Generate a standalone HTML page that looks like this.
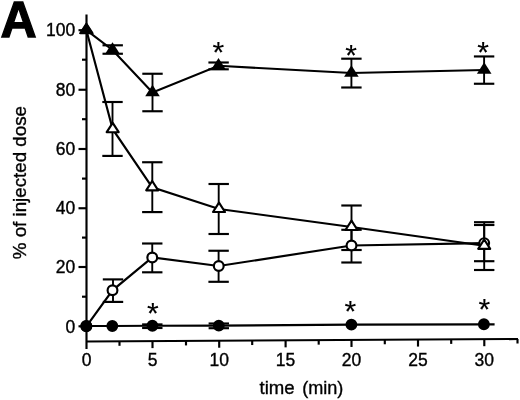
<!DOCTYPE html>
<html><head><meta charset="utf-8"><style>
html,body{margin:0;padding:0;background:#fff;}
svg{display:block;}
text{font-family:"Liberation Sans", Arial, Helvetica, sans-serif;fill:#000;stroke:#000;stroke-width:0.35px;}
</style></head><body>
<svg width="520" height="400" viewBox="0 0 520 400">
<rect width="520" height="400" fill="#fff"/>
<g stroke="#000" stroke-width="2.15" fill="none" stroke-linecap="butt">
<line x1="86.5" y1="14.5" x2="86.5" y2="349" />
<line x1="78.5" y1="30.2" x2="86.5" y2="30.2" />
<line x1="78.5" y1="89.75" x2="86.5" y2="89.75" />
<line x1="78.5" y1="149" x2="86.5" y2="149" />
<line x1="78.5" y1="208.25" x2="86.5" y2="208.25" />
<line x1="78.5" y1="267" x2="86.5" y2="267" />
<line x1="78.5" y1="326.3" x2="86.5" y2="326.3" />
<line x1="82" y1="59.7" x2="86.5" y2="59.7" />
<line x1="82" y1="119.2" x2="86.5" y2="119.2" />
<line x1="82" y1="178.6" x2="86.5" y2="178.6" />
<line x1="82" y1="237.6" x2="86.5" y2="237.6" />
<line x1="82" y1="296.7" x2="86.5" y2="296.7" />
<line x1="86.5" y1="341.5" x2="518" y2="339" />
<line x1="152.5" y1="341.12" x2="152.5" y2="348.12" />
<line x1="219.2" y1="340.73" x2="219.2" y2="347.73" />
<line x1="285.6" y1="340.35" x2="285.6" y2="347.35" />
<line x1="351.5" y1="339.96" x2="351.5" y2="346.96" />
<line x1="418" y1="339.58" x2="418" y2="346.58" />
<line x1="484.3" y1="339.20" x2="484.3" y2="346.20" />
<line x1="119.5" y1="341.31" x2="119.5" y2="345.81" />
<line x1="186" y1="340.92" x2="186" y2="345.42" />
<line x1="252.2" y1="340.54" x2="252.2" y2="345.04" />
<line x1="318.7" y1="340.15" x2="318.7" y2="344.65" />
<line x1="384.8" y1="339.77" x2="384.8" y2="344.27" />
<line x1="451.2" y1="339.39" x2="451.2" y2="343.89" />
<line x1="517.5" y1="339.00" x2="517.5" y2="343.50" />
</g>
<g stroke="#000" stroke-width="2.15">
<polyline fill="none" points="86.4,30.2 112.5,50 152.5,92.5 218.5,65.8 351.4,73 484.2,70" />
<polyline fill="none" points="86.4,30.2 112.7,129.2 152.2,187.3 219,209 351.5,227 484.2,245.8" />
<polyline fill="none" points="86.4,326.3 112.5,290.3 152.25,257.5 218.75,266 351.5,245.5 484.2,243.1" />
<polyline fill="none" points="86.2,326 112.3,326 152.4,325.7 218.8,325.6 351.4,324.6 483.9,324.3 494.6,324.4" />
<line x1="112.7" y1="45.3" x2="112.7" y2="53.75" stroke-width="1.9" />
<line x1="102.5" y1="45.3" x2="122.9" y2="45.3" />
<line x1="102.5" y1="53.75" x2="122.9" y2="53.75" />
<line x1="152.5" y1="73.75" x2="152.5" y2="111.25" stroke-width="1.9" />
<line x1="142.3" y1="73.75" x2="162.7" y2="73.75" />
<line x1="142.3" y1="111.25" x2="162.7" y2="111.25" />
<line x1="218.6" y1="62.5" x2="218.6" y2="69.3" stroke-width="1.9" />
<line x1="208.4" y1="62.5" x2="228.79999999999998" y2="62.5" />
<line x1="208.4" y1="69.3" x2="228.79999999999998" y2="69.3" />
<line x1="351.4" y1="58.7" x2="351.4" y2="87.5" stroke-width="1.9" />
<line x1="341.2" y1="58.7" x2="361.59999999999997" y2="58.7" />
<line x1="341.2" y1="87.5" x2="361.59999999999997" y2="87.5" />
<line x1="484.1" y1="56.45" x2="484.1" y2="83.75" stroke-width="1.9" />
<line x1="473.90000000000003" y1="56.45" x2="494.3" y2="56.45" />
<line x1="473.90000000000003" y1="83.75" x2="494.3" y2="83.75" />
<line x1="112.5" y1="102" x2="112.5" y2="155.9" stroke-width="1.9" />
<line x1="102.3" y1="102" x2="122.7" y2="102" />
<line x1="102.3" y1="155.9" x2="122.7" y2="155.9" />
<line x1="152.3" y1="162.25" x2="152.3" y2="212.1" stroke-width="1.9" />
<line x1="142.10000000000002" y1="162.25" x2="162.5" y2="162.25" />
<line x1="142.10000000000002" y1="212.1" x2="162.5" y2="212.1" />
<line x1="218.7" y1="184" x2="218.7" y2="234" stroke-width="1.9" />
<line x1="208.5" y1="184" x2="228.89999999999998" y2="184" />
<line x1="208.5" y1="234" x2="228.89999999999998" y2="234" />
<line x1="351.5" y1="205.5" x2="351.5" y2="250" stroke-width="1.9" />
<line x1="341.3" y1="205.5" x2="361.7" y2="205.5" />
<line x1="341.3" y1="250" x2="361.7" y2="250" />
<line x1="484.2" y1="222.2" x2="484.2" y2="270" stroke-width="1.9" />
<line x1="474.0" y1="222.2" x2="494.4" y2="222.2" />
<line x1="474.0" y1="270" x2="494.4" y2="270" />
<line x1="113" y1="279.4" x2="113" y2="301.9" stroke-width="1.9" />
<line x1="102.8" y1="279.4" x2="123.2" y2="279.4" />
<line x1="102.8" y1="301.9" x2="123.2" y2="301.9" />
<line x1="152.25" y1="243.5" x2="152.25" y2="272.3" stroke-width="1.9" />
<line x1="142.05" y1="243.5" x2="162.45" y2="243.5" />
<line x1="142.05" y1="272.3" x2="162.45" y2="272.3" />
<line x1="218.6" y1="250.75" x2="218.6" y2="281.8" stroke-width="1.9" />
<line x1="208.4" y1="250.75" x2="228.79999999999998" y2="250.75" />
<line x1="208.4" y1="281.8" x2="228.79999999999998" y2="281.8" />
<line x1="351.5" y1="229.8" x2="351.5" y2="262.5" stroke-width="1.9" />
<line x1="341.3" y1="229.8" x2="361.7" y2="229.8" />
<line x1="341.3" y1="262.5" x2="361.7" y2="262.5" />
<line x1="484.2" y1="225" x2="484.2" y2="261.2" stroke-width="1.9" />
<line x1="474.0" y1="225" x2="494.4" y2="225" />
<line x1="474.0" y1="261.2" x2="494.4" y2="261.2" />
<line x1="152.3" y1="324.4" x2="152.3" y2="328" stroke-width="1.9" />
<line x1="142.10000000000002" y1="324.4" x2="162.5" y2="324.4" />
<line x1="142.10000000000002" y1="328" x2="162.5" y2="328" />
<line x1="218.8" y1="323.5" x2="218.8" y2="328.2" stroke-width="1.9" />
<line x1="208.60000000000002" y1="323.5" x2="229.0" y2="323.5" />
<line x1="208.60000000000002" y1="328.2" x2="229.0" y2="328.2" />
<circle cx="86.4" cy="326.3" r="4.9" fill="#fff" />
<circle cx="112.5" cy="290.3" r="4.9" fill="#fff" />
<circle cx="152.25" cy="257.5" r="4.9" fill="#fff" />
<circle cx="218.75" cy="266" r="4.9" fill="#fff" />
<circle cx="351.5" cy="245.5" r="4.9" fill="#fff" />
<circle cx="484.2" cy="243.1" r="4.9" fill="#fff" />
<circle cx="86.2" cy="326" r="4.85" fill="#000" />
<circle cx="112.3" cy="326" r="4.85" fill="#000" />
<circle cx="152.4" cy="325.7" r="4.85" fill="#000" />
<circle cx="218.8" cy="325.6" r="4.85" fill="#000" />
<circle cx="351.4" cy="324.6" r="4.85" fill="#000" />
<circle cx="483.9" cy="324.3" r="4.85" fill="#000" />
<polygon points="86.4,23.90 92.40,33.20 80.40,33.20" fill="#fff" stroke-linejoin="round"/>
<polygon points="112.7,122.90 118.70,132.20 106.70,132.20" fill="#fff" stroke-linejoin="round"/>
<polygon points="152.2,181.00 158.20,190.30 146.20,190.30" fill="#fff" stroke-linejoin="round"/>
<polygon points="219,202.70 225.00,212.00 213.00,212.00" fill="#fff" stroke-linejoin="round"/>
<polygon points="351.5,220.70 357.50,230.00 345.50,230.00" fill="#fff" stroke-linejoin="round"/>
<polygon points="484.2,239.50 490.20,248.80 478.20,248.80" fill="#fff" stroke-linejoin="round"/>
<polygon points="86.4,22.40 93.70,33.90 79.10,33.90" fill="#000" stroke="none"/>
<polygon points="112.5,42.20 119.80,53.70 105.20,53.70" fill="#000" stroke="none"/>
<polygon points="152.5,84.70 159.80,96.20 145.20,96.20" fill="#000" stroke="none"/>
<polygon points="218.5,58.00 225.80,69.50 211.20,69.50" fill="#000" stroke="none"/>
<polygon points="351.4,65.20 358.70,76.70 344.10,76.70" fill="#000" stroke="none"/>
<polygon points="484.2,62.20 491.50,73.70 476.90,73.70" fill="#000" stroke="none"/>
</g>
<g>
<text x="75.3" y="36.40" text-anchor="end" font-size="17.5">100</text>
<text x="75.3" y="95.95" text-anchor="end" font-size="17.5">80</text>
<text x="75.3" y="155.20" text-anchor="end" font-size="17.5">60</text>
<text x="75.3" y="214.45" text-anchor="end" font-size="17.5">40</text>
<text x="75.3" y="273.20" text-anchor="end" font-size="17.5">20</text>
<text x="75.3" y="332.50" text-anchor="end" font-size="17.5">0</text>
<text x="86.70" y="365.8" text-anchor="middle" font-size="17.5">0</text>
<text x="152.50" y="365.8" text-anchor="middle" font-size="17.5">5</text>
<text x="219.20" y="365.8" text-anchor="middle" font-size="17.5">10</text>
<text x="285.60" y="365.8" text-anchor="middle" font-size="17.5">15</text>
<text x="351.50" y="365.8" text-anchor="middle" font-size="17.5">20</text>
<text x="418.00" y="365.8" text-anchor="middle" font-size="17.5">25</text>
<text x="484.30" y="365.8" text-anchor="middle" font-size="17.5">30</text>
<text x="259.5" y="394.3" font-size="18.6">time <tspan x="302.2" font-size="18.1">(min)</tspan></text>
<text transform="translate(26.2,259.2) rotate(-90)" x="0" y="0" font-size="18.75">% of injected dose</text>
<text x="0.6" y="36.9" font-size="50" font-weight="bold" style="stroke-width:1.3px;stroke-linejoin:miter">A</text>
<text x="218.35" y="61.60" text-anchor="middle" font-size="30" style="stroke-width:0.15px;stroke-linejoin:round">*</text>
<text x="351.1" y="65.20" text-anchor="middle" font-size="30" style="stroke-width:0.15px;stroke-linejoin:round">*</text>
<text x="483.2" y="61.60" text-anchor="middle" font-size="30" style="stroke-width:0.15px;stroke-linejoin:round">*</text>
<text x="152.75" y="322.70" text-anchor="middle" font-size="30" style="stroke-width:0.15px;stroke-linejoin:round">*</text>
<text x="350.4" y="320.85" text-anchor="middle" font-size="30" style="stroke-width:0.15px;stroke-linejoin:round">*</text>
<text x="484.4" y="318.85" text-anchor="middle" font-size="30" style="stroke-width:0.15px;stroke-linejoin:round">*</text>
</g>
</svg>
</body></html>
